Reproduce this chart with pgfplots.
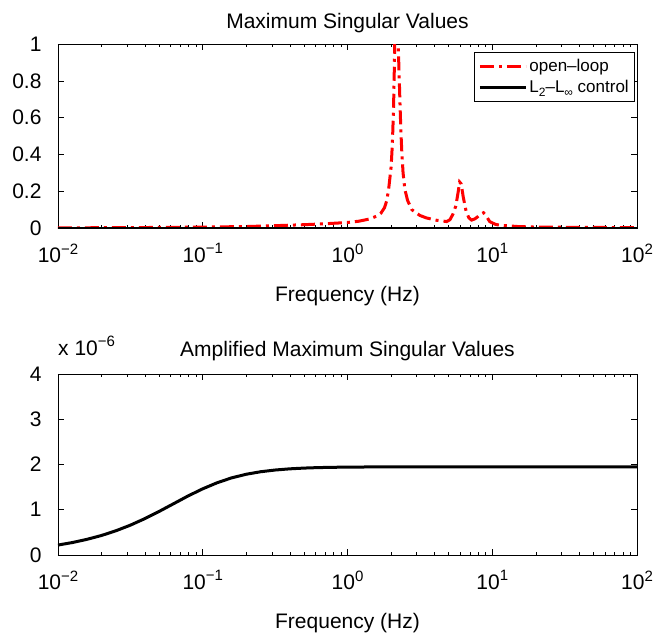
\documentclass[border=0pt]{standalone}
\usepackage{fontspec}
\setmainfont{Liberation Sans}
\usepackage{pgfplots}
\pgfplotsset{compat=1.18}
\newcommand\sups[1]{\raisebox{0.42em}{\fontsize{15}{17}\selectfont #1}}
\newcommand\subs[1]{\raisebox{-0.25em}{\fontsize{12}{14}\selectfont #1}}
\pgfplotstableread{
f v
0.01 0.001
0.02 0.0015
0.05 0.003
0.1 0.005
0.2 0.008
0.3 0.012
0.5 0.018
0.7 0.023
1.0 0.030
1.2 0.037
1.4 0.048
1.6 0.065
1.7 0.080
1.8 0.110
1.87 0.150
1.93 0.220
2.0 0.330
2.04 0.450
2.08 0.650
2.11 0.900
2.14 1.300
2.17 1.600
2.2 1.300
2.24 1.000
2.28 0.800
2.31 0.650
2.34 0.520
2.37 0.420
2.42 0.300
2.49 0.210
2.6 0.150
2.78 0.100
3.0 0.080
3.17 0.068
3.5 0.055
4.13 0.042
4.84 0.035
5.1 0.045
5.35 0.075
5.6 0.120
5.8 0.190
5.95 0.250
6.1 0.240
6.3 0.170
6.6 0.090
6.9 0.055
7.2 0.043
7.6 0.050
7.9 0.060
8.3 0.075
8.7 0.083
9.0 0.070
9.6 0.035
10.5 0.020
11.3 0.015
15 0.008
20 0.005
50 0.003
100 0.002
}\openloop
\pgfplotstableread{
f v
0.01 0.220
0.0126 0.276
0.0158 0.345
0.02 0.432
0.0251 0.535
0.0316 0.659
0.0398 0.804
0.0501 0.965
0.0631 1.136
0.0794 1.307
0.1 1.463
0.126 1.598
0.158 1.704
0.2 1.785
0.251 1.840
0.316 1.878
0.398 1.904
0.501 1.921
0.631 1.932
0.794 1.938
1 1.943
2 1.948
10 1.950
100 1.950
}\amplified
\pgfplotsset{mystyle/.style={
  scale only axis, width=579pt,
  xmin=0.01, xmax=100,
  xtick={0.01,0.1,1,10,100},
  xticklabels={10\sups{−2},10\sups{−1},10\sups{0},10\sups{1},10\sups{2}},
  minor xtick={0.02,0.03,0.04,0.05,0.06,0.07,0.08,0.09,0.2,0.3,0.4,0.5,0.6,0.7,0.8,0.9,2,3,4,5,6,7,8,9,20,30,40,50,60,70,80,90},
  tick align=inside, major tick length=6pt, minor tick length=3pt,
  every tick/.style={black, line width=0.6pt},
  axis line style={line width=0.9pt},
  xlabel={Frequency (Hz)},
  clip mode=individual,
  xticklabel style={yshift=-12pt},
  xlabel style={yshift=-16pt},
  yticklabel style={xshift=-13pt},
}}
\begin{document}
\begin{tikzpicture}[x=1pt,y=1pt,font=\fontsize{21}{25}\selectfont]
\useasboundingbox (-58pt,-78pt) rectangle (597pt,555pt);
\begin{semilogxaxis}[mystyle, at={(0pt,327pt)}, height=184pt,
  ymin=0, ymax=1, ytick={0,0.2,0.4,0.6,0.8,1},
  yticklabels={0,0.2,0.4,0.6,0.8,1},
  title={Maximum Singular Values},
  title style={yshift=2pt},
  legend style={at={(0.997,0.957)}, anchor=north east, font=\fontsize{17}{20}\selectfont,
    draw=black, line width=1pt, inner xsep=4pt, inner ysep=5pt, row sep=3pt},
  legend cell align=left,
  legend image code/.code={\draw[#1, line width=3pt] (0pt,0pt) -- (46pt,0pt);},
]
\addplot[red, line width=3pt, dash pattern=on 14pt off 5pt on 3pt off 5pt] table[x=f,y=v] {\openloop};
\addlegendentry{open–loop}
\addplot[black, line width=3pt] coordinates {(0.01,0) (100,0)};
\addlegendentry{L\subs{2}–L\subs{∞} control}
\end{semilogxaxis}
\begin{semilogxaxis}[mystyle, at={(0pt,0pt)}, height=181pt,
  ymin=0, ymax=4, ytick={0,1,2,3,4}, yticklabels={0,1,2,3,4},
  title={Amplified Maximum Singular Values},
  title style={yshift=4pt},
]
\addplot[black, line width=3pt] table[x=f,y=v] {\amplified};
\node[anchor=south west, inner sep=0pt] at (rel axis cs:0,1) [yshift=18pt] {x 10\sups{−6}};
\end{semilogxaxis}
\end{tikzpicture}
\end{document}
